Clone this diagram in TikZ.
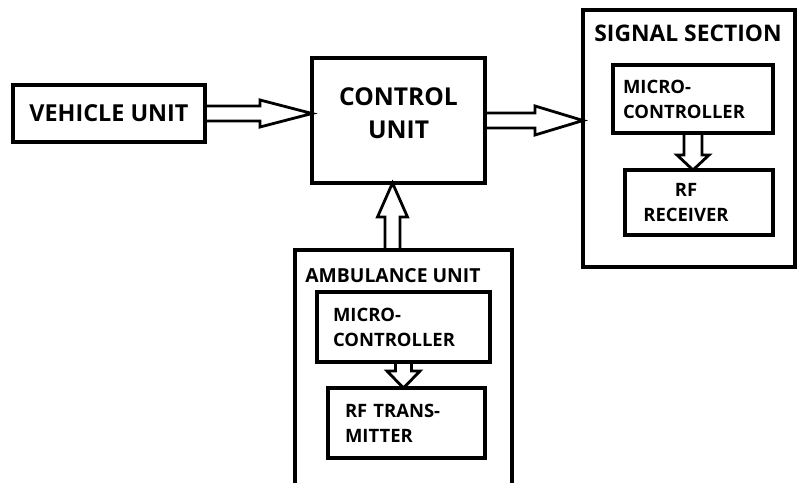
\documentclass[tikz,border=0pt]{standalone}
\usepackage{fontspec}
\setmainfont{Open Sans}
\usetikzlibrary{calc,positioning}

% hollow block arrow: start, end, half shaft, half head, head length
\newcommand{\fatarrow}[5]{%
  \draw[fat] ($(#1)!#3!90:(#2)$) -- ($(#2)!#5!(#1)!#3!-90:(#1)$)
    -- ($(#2)!#5!(#1)!#4!-90:(#1)$) -- (#2)
    -- ($(#2)!#5!(#1)!#4!90:(#1)$) -- ($(#2)!#5!(#1)!#3!90:(#1)$)
    -- ($(#1)!#3!-90:(#2)$) -- cycle;
}

\begin{document}
\begin{tikzpicture}[x=0.02cm,y=-0.02cm,
  box/.style={draw,line width=1.8pt,inner sep=0pt,outer sep=0pt},
  fat/.style={draw,line width=1.6pt},
  big/.style={font=\bfseries\fontsize{14}{19}\selectfont,align=center},
  small/.style={font=\bfseries\fontsize{10.5}{14.2}\selectfont},
  title/.style={inner sep=0pt,anchor=west}]

  \useasboundingbox (0,0) rectangle (798,483);
  \clip (0,0) rectangle (798,483);

  % Main units
  \node[box,big,font=\bfseries\fontsize{13.3}{18}\selectfont,
    minimum width=3.84cm,minimum height=1.14cm] (veh) at (109,113.5) {VEHICLE UNIT};
  \node[box,big,text depth=0.3cm,minimum width=3.46cm,minimum height=2.5cm]
    (ctrl) at (398.5,120.5) {CONTROL\\UNIT};

  % Signal section
  \node[box,minimum width=4.24cm,minimum height=5.14cm] (sig) at (689,138.5) {};
  \node[title,font=\bfseries\fontsize{13}{16}\selectfont] (sigt) at (594,33) {SIGNAL SECTION};
  \node[box,small,text width=2.8cm,inner xsep=0.2cm,minimum height=1.36cm,align=left]
    (smc) at (693,99) {MICRO-\\CONTROLLER};
  \node[box,minimum width=2.96cm,minimum height=1.3cm,
    label={[small,align=center,xshift=-0.26cm]center:{RF\\RECEIVER}}]
    (srf) at (699,202.5) {};

  % Ambulance unit
  \node[box,minimum width=4.34cm,minimum height=5cm] (amb) at (403.5,375) {};
  \node[title,font=\bfseries\fontsize{11}{14}\selectfont] (ambt) at (305,276) {AMBULANCE UNIT};
  \node[box,small,text width=2.82cm,inner xsep=0.32cm,minimum height=1.4cm,align=left]
    (amc) at (403.5,327) {MICRO-\\CONTROLLER};
  \node[box,small,text width=2.46cm,inner xsep=0.34cm,minimum height=1.4cm,align=left]
    (arf) at (406.5,423) {RF TRANS-\\MITTER};

  % Arrow ends
  \coordinate (vc) at (veh.east -| ctrl.west);
  \coordinate (cs) at (ctrl.east -| sig.west);
  \coordinate (ca) at ([xshift=-0.12cm]ctrl.south);
  \coordinate (ac) at (ca |- amb.north);
  \coordinate (sr) at (smc.south |- srf.north);
  \coordinate (ar) at (amc.south |- arf.north);

  % Block arrows
  \fatarrow{veh.east}{vc}{0.15cm}{0.27cm}{1.04cm}
  \fatarrow{ctrl.east}{cs}{0.15cm}{0.29cm}{0.96cm}
  \fatarrow{ac}{ca}{0.15cm}{0.30cm}{0.68cm}
  \fatarrow{smc.south}{sr}{0.18cm}{0.32cm}{0.30cm}
  \fatarrow{amc.south}{ar}{0.16cm}{0.33cm}{0.34cm}
\end{tikzpicture}
\end{document}
